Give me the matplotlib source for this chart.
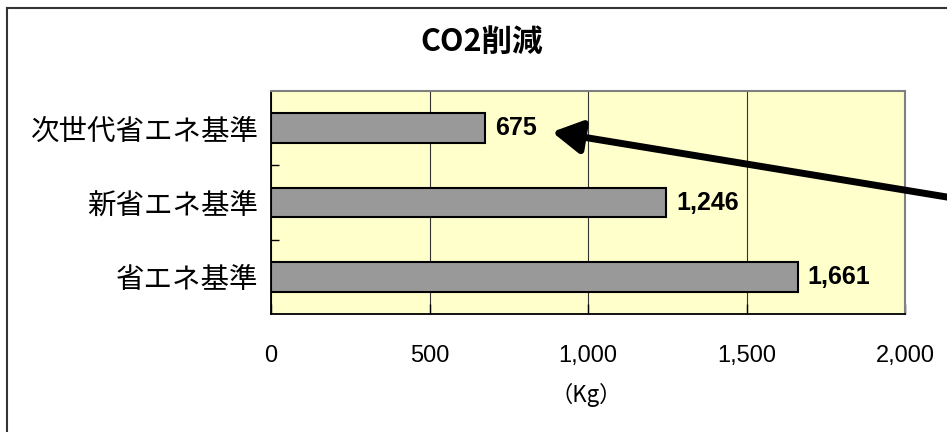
import matplotlib
matplotlib.use("Agg")
import matplotlib.pyplot as plt
from matplotlib.lines import Line2D
from matplotlib.ticker import FuncFormatter

categories = ["省エネ基準", "新省エネ基準", "次世代省エネ基準"]
values = [1661, 1246, 675]
xticks = [0, 500, 1000, 1500, 2000]
title = "CO2削減"
xlabel = "（Kg）"

JP = ["Noto Sans CJK JP", "DejaVu Sans"]
NUM = ["Liberation Sans Narrow", "Liberation Sans", "DejaVu Sans"]

W, H = 947, 432
fig = plt.figure(figsize=(W / 100, H / 100), dpi=100)
fig.patch.set_facecolor("white")

ax = fig.add_axes([271 / W, 1 - 314 / H, (905 - 271) / W, (314 - 91) / H])
ax.set_facecolor("#FFFFCC")

ypos = list(range(len(categories)))
ax.barh(ypos, values, height=0.40, color="#999999", edgecolor="black",
        linewidth=1.5, zorder=3)

ax.set_xlim(0, 2000)
ax.set_ylim(-0.5, len(categories) - 0.5)
ax.set_xticks(xticks)
ax.xaxis.set_major_formatter(FuncFormatter(lambda v, p: f"{int(v):,}"))
ax.grid(axis="x", color="#333333", linewidth=0.8, zorder=1)
ax.set_axisbelow(True)

ax.set_yticks(ypos)
ax.set_yticklabels(categories, fontfamily=JP, fontsize=20.5)
ax.set_yticks([-0.5 + i for i in range(1, len(categories))], minor=True)
ax.tick_params(axis="y", which="major", length=0, pad=9)
ax.tick_params(axis="y", which="minor", direction="in", length=6, width=1)
ax.tick_params(axis="x", direction="in", length=7, width=1, pad=22)
for lab in ax.get_xticklabels():
    lab.set_fontfamily(NUM)
    lab.set_fontsize(17)

for s in ["left", "bottom"]:
    ax.spines[s].set_color("black")
    ax.spines[s].set_linewidth(1.3)
for s in ["right", "top"]:
    ax.spines[s].set_color("#808080")
    ax.spines[s].set_linewidth(1.5)

for y, v in zip(ypos, values):
    ax.text(v + 32, y, f"{v:,}", va="center", ha="left", fontfamily=NUM,
            fontsize=18, fontweight="bold", zorder=4)

fig.text(586 / W, 1 - 395 / H, xlabel, ha="center", va="center",
         fontfamily=JP, fontsize=16)
fig.text(482 / W, 1 - 42 / H, title, ha="center", va="center",
         fontfamily=JP, fontsize=22, fontweight="bold")

# arrow pointing at the smallest value label
ax.annotate("", xy=(552, H - 132), xycoords="figure pixels",
            xytext=(965, H - 200), textcoords="figure pixels",
            arrowprops=dict(arrowstyle="-|>,head_length=0.8,head_width=0.45",
                            lw=5, color="black",
                            mutation_scale=22, shrinkA=0, shrinkB=0),
            annotation_clip=False)

# chart frame (left and top edges visible)
fig.add_artist(Line2D([7 / W, 7 / W], [0, 1 - 8 / H], transform=fig.transFigure,
                      color="#333333", linewidth=1.5))
fig.add_artist(Line2D([7 / W, 1], [1 - 8 / H, 1 - 8 / H], transform=fig.transFigure,
                      color="#333333", linewidth=1.5))

fig.savefig("out.png", dpi=100)
